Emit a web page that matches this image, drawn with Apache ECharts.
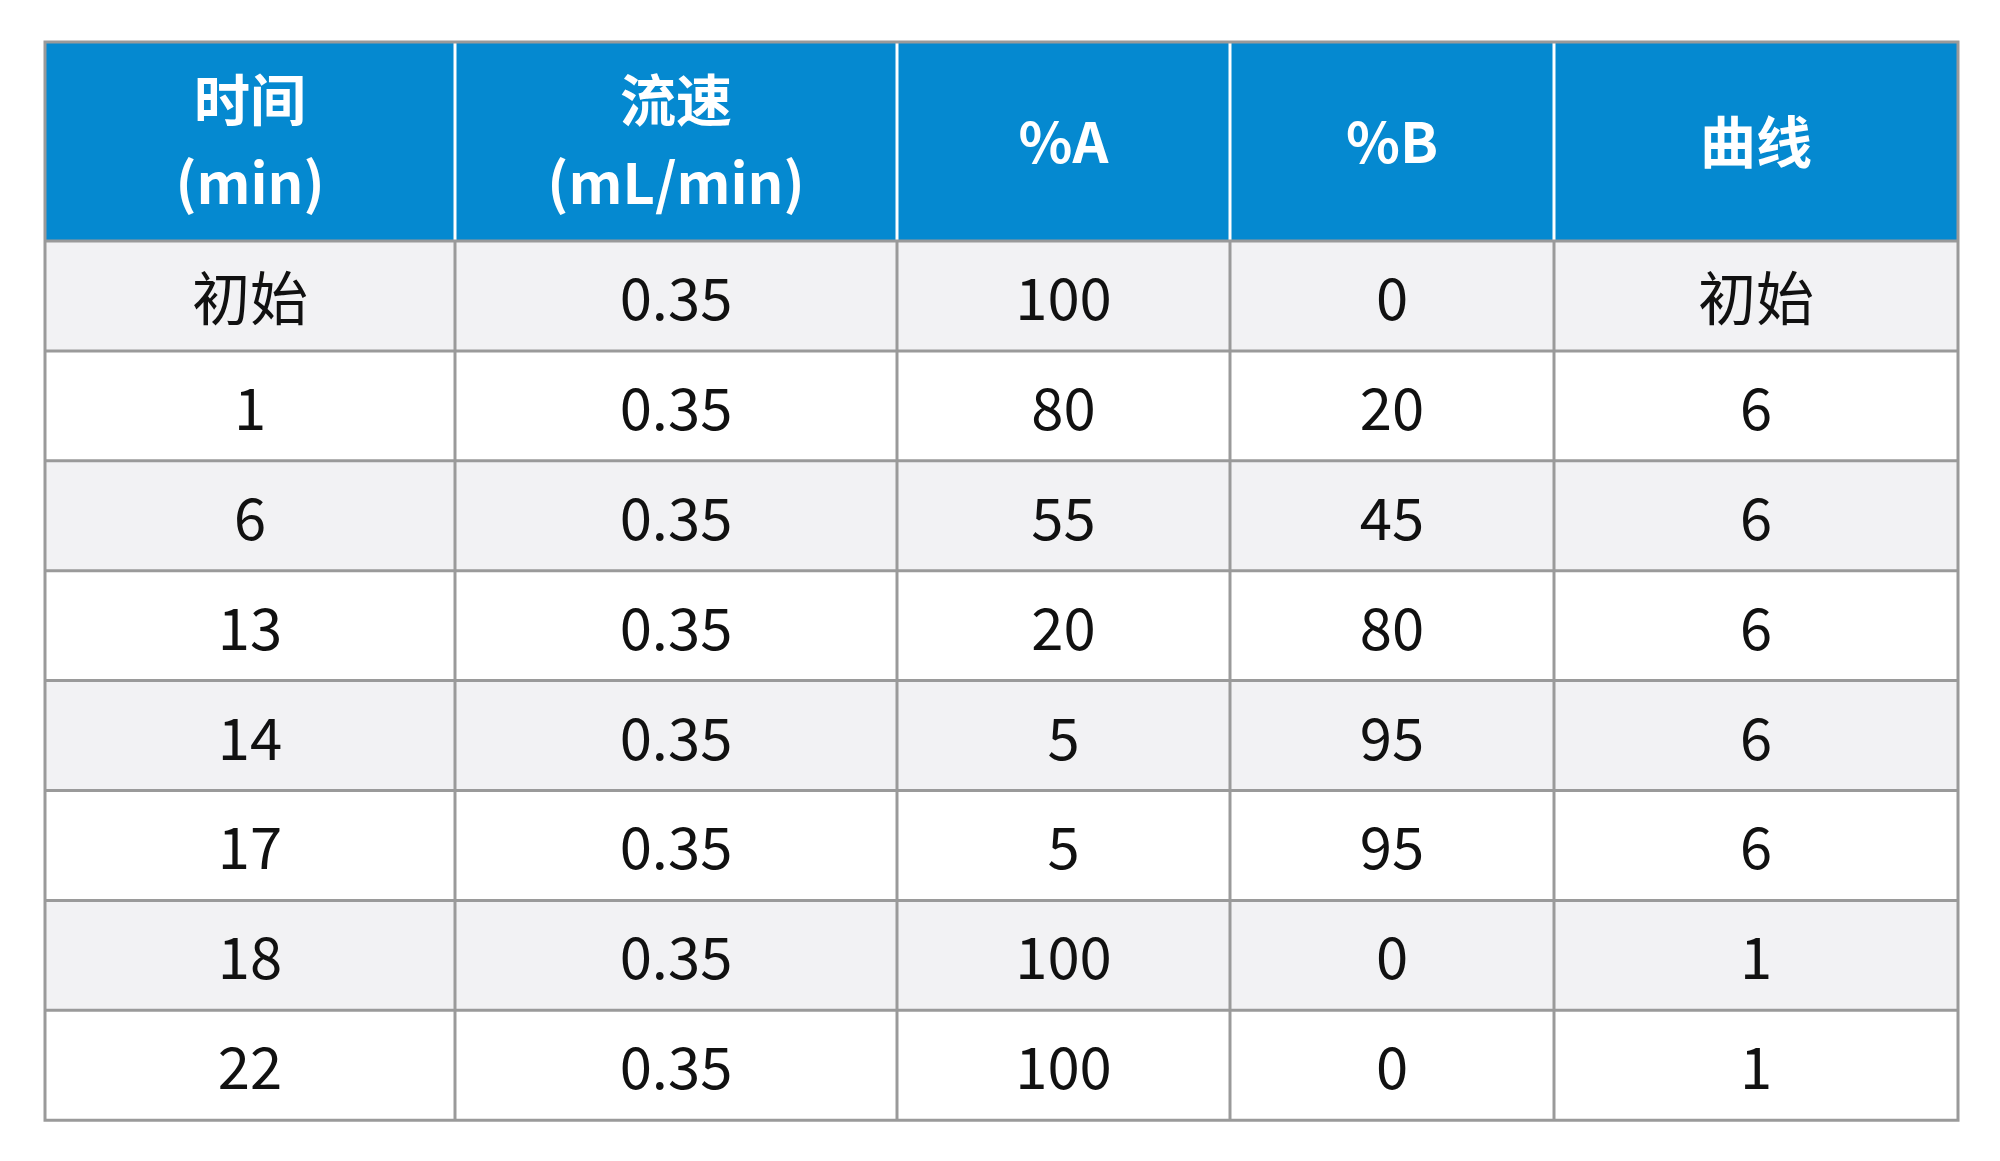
<!DOCTYPE html>
<html><head><meta charset="utf-8">
<script src="https://cdn.jsdelivr.net/npm/echarts@6/dist/echarts.min.js"></script>
<style>html,body{margin:0;background:#fff}#c{width:2000px;height:1161px}</style>
</head><body><div id="c"></div>
<script>
// 表头与数据
const headers = ['时间\n(min)', '流速\n(mL/min)', '%A', '%B', '曲线'];
const times = ['初始', '1', '6', '13', '14', '17', '18', '22'];
const flows = ['0.35', '0.35', '0.35', '0.35', '0.35', '0.35', '0.35', '0.35'];
const pctA = ['100', '80', '55', '20', '5', '5', '100', '100'];
const pctB = ['0', '20', '45', '80', '95', '95', '0', '0'];
const curves = ['初始', '6', '6', '6', '6', '6', '1', '1'];

const colX = [45, 455, 897, 1230, 1554, 1958];
const tableTop = 42, headH = 199, rowH = 109.9;
const font = '"Noto Sans CJK SC", "Liberation Sans", sans-serif';

const cols = [times, flows, pctA, pctB, curves];
const g = [];
// 表头
g.push({type: 'rect', shape: {x: colX[0], y: tableTop, width: colX[5] - colX[0], height: headH}, style: {fill: '#0589d0'}});
headers.forEach((h, i) => {
    g.push({type: 'text', x: (colX[i] + colX[i + 1]) / 2, y: tableTop + headH / 2,
        style: {text: h, fill: '#fff', font: 'bold 56px ' + font, align: 'center', verticalAlign: 'middle', lineHeight: 83}});
    if (i > 0) g.push({type: 'line', shape: {x1: colX[i], y1: tableTop, x2: colX[i], y2: tableTop + headH}, style: {stroke: '#fff', lineWidth: 3}});
});
// 数据行
times.forEach((t, r) => {
    const y = tableTop + headH + r * rowH;
    g.push({type: 'rect', shape: {x: colX[0], y: y, width: colX[5] - colX[0], height: rowH}, style: {fill: r % 2 === 0 ? '#f2f2f4' : '#fff'}});
    cols.forEach((c, i) => {
        g.push({type: 'text', x: (colX[i] + colX[i + 1]) / 2, y: y + rowH / 2 + 2,
            style: {text: c[r], fill: '#111', font: '58px ' + font, align: 'center', verticalAlign: 'middle'}});
    });
    g.push({type: 'line', shape: {x1: colX[0], y1: y, x2: colX[5], y2: y}, style: {stroke: '#9a9a9a', lineWidth: 3}});
    for (let i = 1; i < 5; i++) g.push({type: 'line', shape: {x1: colX[i], y1: y, x2: colX[i], y2: y + rowH}, style: {stroke: '#9a9a9a', lineWidth: 3}});
});
const tableBottom = tableTop + headH + times.length * rowH;
g.push({type: 'rect', shape: {x: colX[0], y: tableTop, width: colX[5] - colX[0], height: tableBottom - tableTop}, style: {fill: 'none', stroke: '#9a9a9a', lineWidth: 3}});

const chart = echarts.init(document.getElementById('c'));
chart.setOption({animation: false, graphic: g});
</script></body></html>
